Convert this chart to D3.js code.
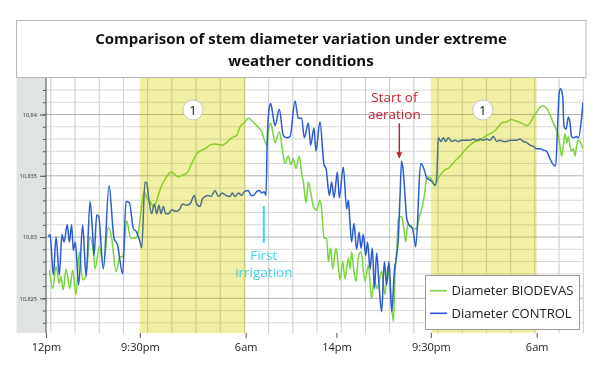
<!DOCTYPE html>
<html><head><meta charset="utf-8">
<script src="https://cdn.jsdelivr.net/npm/d3@7"></script>
<style>
html,body{margin:0;padding:0;background:#fff;}
svg{display:block;font-family:"Open Sans",sans-serif;}
</style></head>
<body><svg id="c" width="600" height="372"></svg>
<script>
// ---- data (time in hours from 12pm, diameter in mm) ----
const titleLines = ["Comparison of stem diameter variation under extreme", "weather conditions"];
const seriesNames = ["Diameter BIODEVAS", "Diameter CONTROL"];
const xTickTimes = [0, 7.75, 16.5, 24.0, 31.8, 40.55];
const xTickLabels = ["12pm", "9:30pm", "6am", "14pm", "9:30pm", "6am"];
const yMajorTicks = [10.825, 10.83, 10.835, 10.84];
const highlightBands = [[7.75, 16.5], [31.8, 40.55]];
const controlSeries = [[0.19,10.8300],[0.33,10.8302],[0.61,10.8269],[0.83,10.8300],[1.10,10.8269],[1.32,10.8302],[1.49,10.8296],[1.76,10.8310],[1.93,10.8296],[2.12,10.8310],[2.26,10.8289],[2.42,10.8296],[2.70,10.8261],[3.03,10.8310],[3.31,10.8268],[3.64,10.8329],[3.86,10.8302],[3.97,10.8285],[4.19,10.8318],[4.35,10.8317],[4.74,10.8274],[5.21,10.8342],[5.62,10.8299],[5.90,10.8294],[6.34,10.8270],[6.61,10.8329],[6.89,10.8328],[7.22,10.8307],[7.49,10.8304],[7.77,10.8296],[7.91,10.8291],[8.18,10.8345],[8.32,10.8344],[8.51,10.8330],[8.73,10.8319],[8.95,10.8327],[9.15,10.8319],[9.34,10.8326],[9.50,10.8319],[9.70,10.8325],[9.89,10.8319],[10.11,10.8319],[10.39,10.8322],[10.80,10.8321],[11.07,10.8323],[11.27,10.8327],[11.63,10.8326],[11.90,10.8327],[12.26,10.8334],[12.45,10.8327],[12.73,10.8325],[12.92,10.8331],[13.14,10.8333],[13.42,10.8334],[13.64,10.8333],[13.97,10.8338],[14.24,10.8333],[14.57,10.8336],[14.85,10.8334],[15.21,10.8333],[15.40,10.8336],[15.62,10.8333],[15.90,10.8336],[16.17,10.8334],[16.39,10.8337],[16.72,10.8338],[16.94,10.8334],[17.13,10.8334],[17.41,10.8337],[17.63,10.8338],[17.82,10.8336],[18.02,10.8337],[18.18,10.8334],[18.29,10.8381],[18.46,10.8406],[18.57,10.8409],[18.79,10.8397],[18.93,10.8391],[19.28,10.8404],[19.61,10.8383],[19.89,10.8381],[20.17,10.8382],[20.58,10.8411],[20.85,10.8397],[21.13,10.8397],[21.35,10.8381],[21.68,10.8393],[21.87,10.8375],[22.15,10.8389],[22.31,10.8370],[22.64,10.8394],[22.98,10.8359],[23.14,10.8356],[23.42,10.8334],[23.61,10.8345],[23.80,10.8332],[24.08,10.8353],[24.24,10.8332],[24.57,10.8357],[24.85,10.8323],[24.99,10.8330],[25.12,10.8312],[25.26,10.8296],[25.45,10.8311],[25.67,10.8290],[25.88,10.8304],[26.03,10.8291],[26.22,10.8302],[26.42,10.8285],[26.58,10.8296],[26.78,10.8274],[26.97,10.8291],[27.14,10.8258],[27.33,10.8287],[27.52,10.8261],[27.74,10.8239],[27.96,10.8280],[28.15,10.8261],[28.35,10.8280],[28.57,10.8239],[28.79,10.8272],[28.98,10.8285],[29.12,10.8299],[29.26,10.8334],[29.39,10.8362],[29.53,10.8353],[29.67,10.8334],[29.81,10.8315],[30.00,10.8310],[30.28,10.8307],[30.44,10.8299],[30.55,10.8292],[30.72,10.8315],[30.83,10.8343],[30.99,10.8360],[31.18,10.8357],[31.32,10.8353],[31.46,10.8348],[31.65,10.8347],[31.93,10.8345],[32.15,10.8342],[32.30,10.8350],[32.42,10.8381],[32.64,10.8378],[32.84,10.8381],[33.03,10.8378],[33.25,10.8381],[33.53,10.8378],[33.80,10.8379],[34.08,10.8378],[34.35,10.8379],[34.77,10.8379],[35.04,10.8379],[35.32,10.8380],[35.59,10.8379],[35.87,10.8380],[36.14,10.8379],[36.42,10.8380],[36.69,10.8379],[36.97,10.8382],[37.25,10.8378],[37.52,10.8379],[37.80,10.8378],[38.07,10.8378],[38.35,10.8379],[38.62,10.8379],[38.90,10.8379],[39.17,10.8380],[39.45,10.8378],[39.72,10.8377],[40.00,10.8375],[40.28,10.8374],[40.55,10.8372],[40.83,10.8372],[41.10,10.8371],[41.38,10.8370],[41.65,10.8364],[41.93,10.8359],[42.12,10.8358],[42.29,10.8393],[42.42,10.8418],[42.53,10.8421],[42.70,10.8415],[42.81,10.8390],[42.98,10.8388],[43.17,10.8398],[43.31,10.8393],[43.44,10.8382],[43.58,10.8381],[43.86,10.8382],[44.00,10.8381],[44.27,10.8398],[44.38,10.8410]];
const biodevasSeries = [[0.28,10.8273],[0.55,10.8258],[0.83,10.8276],[1.10,10.8262],[1.21,10.8268],[1.43,10.8257],[1.65,10.8274],[1.98,10.8258],[2.20,10.8273],[2.48,10.8253],[2.75,10.8288],[3.03,10.8265],[3.31,10.8269],[3.64,10.8300],[3.91,10.8288],[4.05,10.8274],[4.41,10.8292],[4.74,10.8276],[5.15,10.8308],[5.43,10.8299],[5.79,10.8272],[6.12,10.8284],[6.34,10.8284],[6.67,10.8313],[7.00,10.8299],[7.36,10.8299],[7.63,10.8304],[7.91,10.8326],[8.10,10.8337],[8.32,10.8332],[8.60,10.8329],[8.87,10.8325],[9.56,10.8342],[10.39,10.8353],[10.66,10.8351],[10.94,10.8349],[11.35,10.8351],[11.63,10.8352],[12.04,10.8360],[12.45,10.8368],[12.87,10.8371],[13.14,10.8372],[13.55,10.8375],[13.97,10.8376],[14.52,10.8375],[14.79,10.8376],[15.34,10.8381],[15.76,10.8383],[16.03,10.8390],[16.45,10.8394],[16.72,10.8397],[17.00,10.8395],[17.41,10.8391],[17.82,10.8386],[18.24,10.8375],[18.37,10.8386],[18.57,10.8393],[18.79,10.8383],[18.93,10.8377],[19.28,10.8386],[19.56,10.8370],[19.75,10.8360],[20.03,10.8366],[20.22,10.8359],[20.44,10.8364],[20.66,10.8356],[20.94,10.8366],[21.13,10.8352],[21.27,10.8345],[21.49,10.8328],[21.68,10.8345],[21.87,10.8337],[22.09,10.8325],[22.37,10.8322],[22.64,10.8330],[22.78,10.8323],[22.98,10.8299],[23.20,10.8299],[23.33,10.8280],[23.53,10.8291],[23.69,10.8274],[23.97,10.8291],[24.16,10.8276],[24.30,10.8265],[24.52,10.8280],[24.71,10.8266],[24.99,10.8283],[25.12,10.8274],[25.26,10.8288],[25.45,10.8272],[25.62,10.8264],[25.81,10.8283],[26.03,10.8288],[26.36,10.8264],[26.64,10.8277],[26.91,10.8250],[27.13,10.8265],[27.36,10.8258],[27.74,10.8272],[28.02,10.8253],[28.24,10.8276],[28.43,10.8261],[28.71,10.8231],[28.84,10.8269],[28.98,10.8288],[29.12,10.8315],[29.39,10.8317],[29.53,10.8310],[29.73,10.8296],[29.89,10.8310],[30.08,10.8310],[30.36,10.8307],[30.63,10.8307],[30.83,10.8315],[31.05,10.8323],[31.27,10.8334],[31.46,10.8348],[31.65,10.8349],[31.87,10.8347],[32.15,10.8342],[32.42,10.8348],[32.70,10.8352],[32.98,10.8355],[33.25,10.8356],[33.53,10.8359],[33.80,10.8362],[34.21,10.8366],[34.63,10.8371],[35.04,10.8375],[35.45,10.8378],[35.87,10.8379],[36.14,10.8381],[36.42,10.8383],[36.83,10.8385],[37.11,10.8387],[37.38,10.8390],[37.66,10.8393],[38.07,10.8394],[38.48,10.8396],[38.76,10.8395],[39.04,10.8394],[39.31,10.8393],[39.72,10.8391],[40.00,10.8393],[40.28,10.8398],[40.55,10.8402],[40.83,10.8406],[41.10,10.8407],[41.38,10.8405],[41.65,10.8400],[41.93,10.8393],[42.15,10.8388],[42.34,10.8384],[42.48,10.8374],[42.62,10.8366],[42.75,10.8374],[42.89,10.8384],[43.03,10.8377],[43.17,10.8382],[43.31,10.8374],[43.44,10.8370],[43.58,10.8372],[43.72,10.8366],[43.86,10.8375],[44.00,10.8379],[44.13,10.8378],[44.38,10.8372]];
const annotations = {
  irrigation: {t: 18.0, lineFrom: 10.83253, lineTo: 10.82951, textAt: 10.82813, lines: ["First", "irrigation"]},
  aeration: {t: 29.2, lineFrom: 10.83928, lineTo: 10.83648, textAt: 10.84105, lines: ["Start of", "aeration"]}
};
const circleMarks = [{t: 12.15, v: 10.84037, label: "1"}, {t: 36.1, v: 10.84037, label: "1"}];

// ---- layout ----
const W = 600, H = 372;
const M = {left: 46, right: 583, top: 78, bottom: 333};
const colors = {bio: "#76d63a", ctrl: "#2b5bd0", cyan: "#3fd6df", red: "#c0232d"};

const svg = d3.select("#c");
const x = d3.scaleLinear().domain([0, 44.38]).range([M.left, M.right]);
const y = d3.scaleLinear().domain([10.82217, 10.84298]).range([M.bottom, M.top]);
const fmt = d3.formatLocale({decimal: ",", thousands: ".", grouping: [3], currency: ["", ""]}).format(".3~f");

svg.append("rect").attr("width", W).attr("height", H).attr("fill", "#fff");

// title box
svg.append("rect").attr("x", 16.5).attr("y", 20.5).attr("width", 569.5).attr("height", 57)
  .attr("fill", "#fff").attr("stroke", "#b9b9b9").attr("stroke-width", 1);
svg.selectAll("text.title").data(titleLines).join("text").attr("class", "title")
  .attr("x", 301).attr("y", (d, i) => 43.5 + i * 22)
  .attr("text-anchor", "middle").attr("font-size", 15).attr("font-weight", 700).attr("fill", "#111")
  .text(d => d);

// grey y-axis band
svg.append("rect").attr("x", 16.5).attr("y", M.top).attr("width", M.left - 16.5).attr("height", M.bottom - M.top)
  .attr("fill", "#dfe3e3");

// grid
const vGrid = d3.range(0.4, 44.5, 2);
const hGrid = d3.range(10.823, 10.8425, 0.001).map(v => +v.toFixed(3));
const grid = svg.append("g");
grid.selectAll("line.v").data(vGrid).join("line").attr("class", "v")
  .attr("x1", d => x(d)).attr("x2", d => x(d)).attr("y1", M.top).attr("y2", M.bottom)
  .attr("stroke", "#c6caca").attr("stroke-width", 1);
grid.selectAll("line.h").data(hGrid).join("line").attr("class", "h")
  .attr("x1", M.left).attr("x2", M.right).attr("y1", d => y(d)).attr("y2", d => y(d))
  .attr("stroke", d => (Math.round(d * 1000) % 5 === 0) ? "#b0b4b4" : "#d6d9d9").attr("stroke-width", 1);

// lines
const line = d3.line().x(d => x(d[0])).y(d => y(d[1])).curve(d3.curveMonotoneX);
svg.append("clipPath").attr("id", "clip").append("rect")
  .attr("x", M.left).attr("y", M.top).attr("width", M.right - M.left).attr("height", M.bottom - M.top);
const lg = svg.append("g").attr("clip-path", "url(#clip)");
lg.append("path").datum(biodevasSeries).attr("d", line).attr("fill", "none").attr("stroke", colors.bio).attr("stroke-width", 1.5);
lg.append("path").datum(controlSeries).attr("d", line).attr("fill", "none").attr("stroke", colors.ctrl).attr("stroke-width", 1.5);

// yellow highlight bands (tinted overlay on lines)
const bands = svg.selectAll("g.band").data(highlightBands).join("g").attr("class", "band");
bands.append("rect")
  .attr("x", d => x(d[0])).attr("width", d => x(d[1]) - x(d[0]))
  .attr("y", M.top).attr("height", M.bottom - M.top)
  .attr("fill", "rgb(248,246,205)").style("mix-blend-mode", "multiply");
bands.append("rect")
  .attr("x", d => x(d[0])).attr("width", d => x(d[1]) - x(d[0]))
  .attr("y", M.top).attr("height", M.bottom - M.top)
  .attr("fill", "rgb(215,213,0)").attr("fill-opacity", 0.2);

// y axis
const yMinor = svg.append("g").attr("transform", `translate(${M.left},0)`)
  .call(d3.axisLeft(y).tickValues(hGrid).tickSize(3).tickFormat(""));
const yMajor = svg.append("g").attr("transform", `translate(${M.left},0)`)
  .call(d3.axisLeft(y).tickValues(yMajorTicks).tickSize(6).tickPadding(3).tickFormat(fmt));
[yMinor, yMajor].forEach(g => { g.select(".domain").remove(); g.selectAll(".tick line").attr("stroke", "#555"); });
yMajor.selectAll("text").attr("font-size", 5.6).attr("fill", "#333").attr("font-family", "Open Sans, sans-serif");
svg.append("line").attr("x1", M.left).attr("x2", M.left).attr("y1", M.top).attr("y2", M.bottom)
  .attr("stroke", "#666").attr("stroke-width", 1.2);

// x axis
const xa = svg.append("g").attr("transform", `translate(0,${M.bottom})`)
  .call(d3.axisBottom(x).tickValues(xTickTimes).tickSize(5).tickPadding(5).tickFormat((d, i) => xTickLabels[i]));
xa.select(".domain").remove();
xa.selectAll(".tick line").attr("stroke", "#555");
xa.selectAll("text").attr("font-size", 11).attr("fill", "#222").attr("font-family", "Open Sans, sans-serif");

// circle markers "1"
const cm = svg.selectAll("g.cm").data(circleMarks).join("g").attr("class", "cm")
  .attr("transform", d => `translate(${x(d.t)},${y(d.v)})`);
cm.append("circle").attr("r", 10).attr("fill", "#fff").attr("stroke", "#c8c8c8").attr("stroke-width", 1);
cm.append("text").attr("text-anchor", "middle").attr("dy", "0.36em").attr("font-size", 13).attr("fill", "#111").text(d => d.label);

// First irrigation annotation
const ir = annotations.irrigation;
svg.append("line").attr("x1", x(ir.t)).attr("x2", x(ir.t)).attr("y1", y(ir.lineFrom)).attr("y2", y(ir.lineTo))
  .attr("stroke", colors.cyan).attr("stroke-width", 2);
svg.selectAll("text.ir").data(ir.lines).join("text").attr("class", "ir")
  .attr("x", x(ir.t)).attr("y", (d, i) => y(ir.textAt) + i * 17.5)
  .attr("text-anchor", "middle").attr("font-size", 13.5).attr("fill", colors.cyan).text(d => d);

// Start of aeration annotation
const ae = annotations.aeration;
svg.append("defs").append("marker").attr("id", "arr").attr("viewBox", "0 0 10 10")
  .attr("refX", 9).attr("refY", 5).attr("markerWidth", 4).attr("markerHeight", 5).attr("orient", "auto")
  .append("path").attr("d", "M0,0L10,5L0,10Z").attr("fill", colors.red);
svg.append("line").attr("x1", x(ae.t)).attr("x2", x(ae.t)).attr("y1", y(ae.lineFrom)).attr("y2", y(ae.lineTo))
  .attr("stroke", colors.red).attr("stroke-width", 1.5).attr("marker-end", "url(#arr)");
svg.selectAll("text.ae").data(ae.lines).join("text").attr("class", "ae")
  .attr("x", x(ae.t) - 5).attr("y", (d, i) => y(ae.textAt) + i * 17.5)
  .attr("text-anchor", "middle").attr("font-size", 13.5).attr("fill", colors.red).text(d => d);

// legend
const leg = svg.append("g");
leg.append("rect").attr("x", 425.5).attr("y", 275.5).attr("width", 154).attr("height", 54)
  .attr("fill", "#fff").attr("stroke", "#9a9a9a").attr("stroke-width", 1);
const legItems = [{name: seriesNames[0], c: colors.bio}, {name: seriesNames[1], c: colors.ctrl}];
const li = leg.selectAll("g.li").data(legItems).join("g").attr("class", "li")
  .attr("transform", (d, i) => `translate(430,${290.7 + i * 22.6})`);
li.append("line").attr("x1", 0).attr("x2", 17).attr("stroke", d => d.c).attr("stroke-width", 1.6);
li.append("text").attr("x", 21.5).attr("dy", "0.36em").attr("font-size", 13).attr("fill", "#222").text(d => d.name);
</script></body></html>
